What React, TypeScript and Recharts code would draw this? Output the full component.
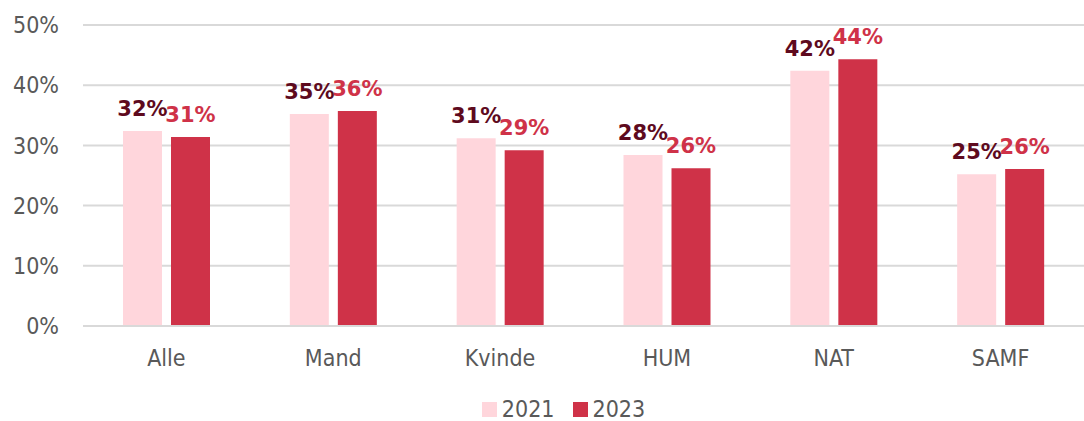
import { BarChart, Bar, XAxis, YAxis, CartesianGrid, Legend, LabelList } from 'recharts';

const categories = ['Alle', 'Mand', 'Kvinde', 'HUM', 'NAT', 'SAMF'];
const values2021 = [32.4, 35.2, 31.2, 28.4, 42.4, 25.2];
const values2023 = [31.4, 35.7, 29.2, 26.2, 44.3, 26.1];
const yTicks = [0, 10, 20, 30, 40, 50];

const C2021 = '#ffd6dc';
const C2023 = '#cf3248';
const LABEL2021 = '#5e0a1e';
const AXIS_FONT = '"DejaVu Sans Condensed", "DejaVu Sans", sans-serif';

const data = categories.map((c, i) => ({ name: c, y2021: values2021[i], y2023: values2023[i] }));

const pct = (v: any) => `${Math.round(Number(v))}%`;

function LegendBox({ payload }: any) {
  const items = payload || [];
  return (
    <div style={{ display: 'flex', justifyContent: 'center', height: 24, alignItems: 'center', fontFamily: AXIS_FONT, fontSize: 23, color: '#595959', lineHeight: '24px' }}>
      {items.map((p: any, i: number) => (
        <span key={p.value} style={{ display: 'inline-flex', alignItems: 'center', marginRight: i < items.length - 1 ? 18 : 0 }}>
          <span style={{ width: 15, height: 15, background: p.color, display: 'inline-block', marginRight: 5 }} />
          {p.value}
        </span>
      ))}
    </div>
  );
}

export default function App() {
  return (
    <div style={{ position: 'absolute', left: 0, top: 0, background: '#fff' }}>
      <BarChart width={1084} height={421} data={data} margin={{ top: 25, right: 0, left: 0, bottom: 0 }}
                barSize={39} barGap={9}>
        <CartesianGrid horizontal vertical={false} stroke="#d9d9d9" strokeWidth={2} />
        <XAxis dataKey="name" height={71} tickLine={false} tickSize={0} tickMargin={24}
               axisLine={{ stroke: '#d9d9d9', strokeWidth: 2 }}
               tick={{ fill: '#595959', fontSize: 23, fontFamily: AXIS_FONT }} />
        <YAxis width={83} domain={[0, 50]} ticks={yTicks} tickFormatter={(v) => `${v}%`}
               axisLine={false} tickLine={false} tickSize={0} tickMargin={24}
               tick={{ fill: '#595959', fontSize: 23, fontFamily: AXIS_FONT }} />
        <Legend verticalAlign="bottom" content={<LegendBox />}
                wrapperStyle={{ left: 83, width: 961, top: 397 }} />
        <Bar dataKey="y2021" name="2021" fill={C2021} isAnimationActive={false}>
          <LabelList dataKey="y2021" position="top" offset={15} formatter={pct}
                     style={{ fill: LABEL2021, fontSize: 21, fontWeight: 700, fontFamily: '"DejaVu Sans", sans-serif' }} />
        </Bar>
        <Bar dataKey="y2023" name="2023" fill={C2023} isAnimationActive={false}>
          <LabelList dataKey="y2023" position="top" offset={15} formatter={pct}
                     style={{ fill: C2023, fontSize: 21, fontWeight: 700, fontFamily: '"DejaVu Sans", sans-serif' }} />
        </Bar>
      </BarChart>
    </div>
  );
}
